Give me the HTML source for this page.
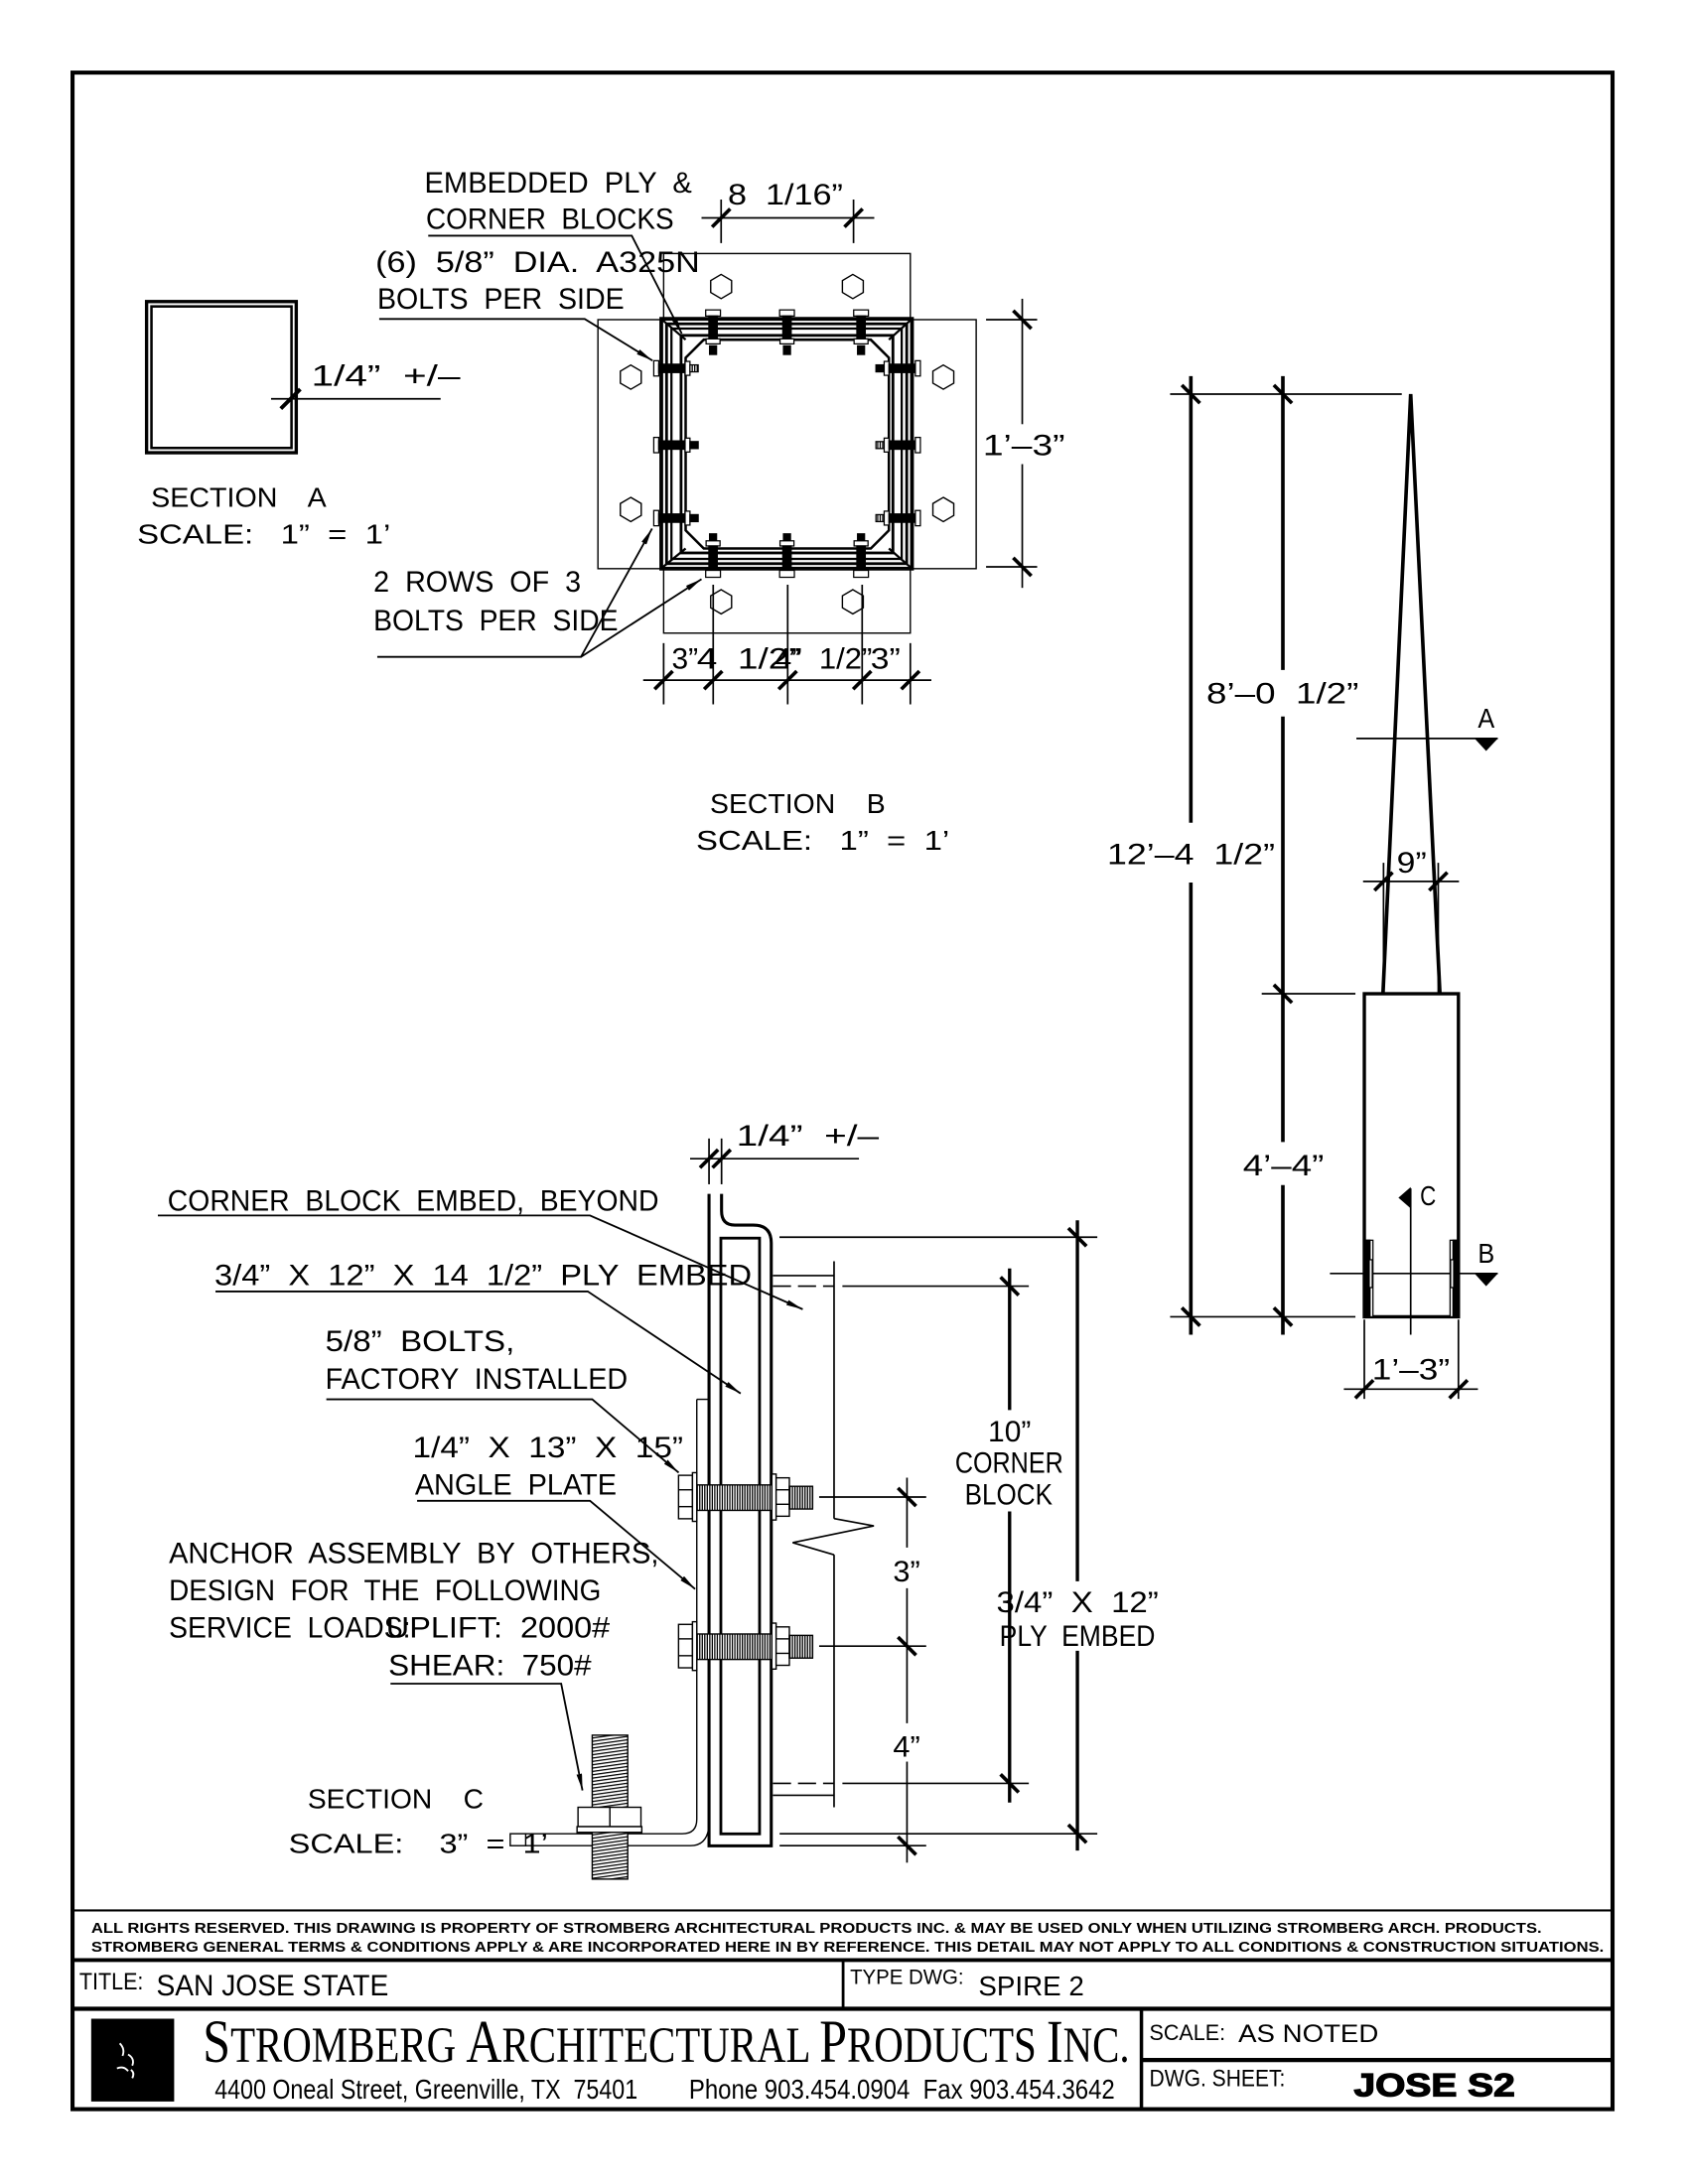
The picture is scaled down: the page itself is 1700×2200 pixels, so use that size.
<!DOCTYPE html>
<html><head><meta charset="utf-8"><style>
html,body{margin:0;padding:0;background:#fff;}
svg{display:block;}
text{font-family:"Liberation Sans",Arial,sans-serif;fill:#000;white-space:pre;}
.l{font-size:21px;}
.s{font-size:20px;}
</style></head><body>
<svg width="1700" height="2200" viewBox="0 0 1212.5 1569" xmlns="http://www.w3.org/2000/svg">
<defs>
<marker id="ar" viewBox="0 0 12 4" refX="12" refY="2" markerWidth="12" markerHeight="4" markerUnits="userSpaceOnUse" orient="auto"><path d="M0,0 L12,2 L0,4 z" fill="#000"/></marker>
<pattern id="thr" width="1.8" height="4" patternUnits="userSpaceOnUse"><rect width="1.8" height="4" fill="#fff"/><rect x="0" y="0" width="0.9" height="4" fill="#000"/></pattern>
<pattern id="rod" width="30" height="2.4" patternUnits="userSpaceOnUse" patternTransform="skewY(-8)"><rect width="30" height="2.4" fill="#fff"/><rect x="0" y="0" width="30" height="0.9" fill="#000"/></pattern>
</defs>
<rect x="0" y="0" width="1212.5" height="1569" fill="#fff"/>

<!-- page border -->
<rect x="52.1" y="52.1" width="1106.2" height="1463.2" fill="none" stroke="#000" stroke-width="2.9"/>

<!-- ===== TITLE BLOCK ===== -->
<g stroke="#000">
<line x1="52" y1="1372.5" x2="1158" y2="1372.5" stroke-width="1.5"/>
<line x1="52" y1="1408.2" x2="1158" y2="1408.2" stroke-width="2.8"/>
<line x1="605.6" y1="1408" x2="605.6" y2="1443" stroke-width="2"/>
<line x1="52" y1="1443.2" x2="1158" y2="1443.2" stroke-width="3"/>
<line x1="819.9" y1="1443" x2="819.9" y2="1515" stroke-width="2.5"/>
<line x1="820" y1="1480" x2="1158" y2="1480" stroke-width="3"/>
</g>
<text x="65.5" y="1388.5" font-size="10.5" font-weight="bold" textLength="1041.9" lengthAdjust="spacingAndGlyphs">ALL RIGHTS RESERVED. THIS DRAWING IS PROPERTY OF STROMBERG ARCHITECTURAL PRODUCTS INC. &amp; MAY BE USED ONLY WHEN UTILIZING STROMBERG ARCH. PRODUCTS.</text>
<text x="65.5" y="1402.2" font-size="10.5" font-weight="bold" textLength="1086.6" lengthAdjust="spacingAndGlyphs">STROMBERG GENERAL TERMS &amp; CONDITIONS APPLY &amp; ARE INCORPORATED HERE IN BY REFERENCE. THIS DETAIL MAY NOT APPLY TO ALL CONDITIONS &amp; CONSTRUCTION SITUATIONS.</text>
<text x="57" y="1429.4" font-size="17" textLength="46" lengthAdjust="spacingAndGlyphs">TITLE:</text>
<text x="112.3" y="1433.7" font-size="21" textLength="166.8" lengthAdjust="spacingAndGlyphs">SAN JOSE STATE</text>
<text x="610.6" y="1425.4" font-size="15" textLength="81.6" lengthAdjust="spacingAndGlyphs">TYPE DWG:</text>
<text x="702.8" y="1433.7" font-size="20" textLength="75.9" lengthAdjust="spacingAndGlyphs">SPIRE 2</text>
<!-- logo -->
<rect x="65.5" y="1450.3" width="59.6" height="59.5" fill="#000"/>
<g stroke="#fff" fill="none" stroke-width="1.3">
<path d="M86,1468 q4,4 2,9"/>
<path d="M92,1476 q5,3 3,8"/>
<path d="M84,1486 q5,-2 8,2"/>
<path d="M94,1487 q3,2 1,6"/>
</g>
<text x="145.7" y="1481.2" font-size="36" textLength="665.7" lengthAdjust="spacingAndGlyphs" style="font-family:'Liberation Serif',serif"><tspan font-size="44">S</tspan>TROMBERG <tspan font-size="44">A</tspan>RCHITECTURAL <tspan font-size="44">P</tspan>RODUCTS <tspan font-size="44">I</tspan>NC.</text>
<text x="154.2" y="1507.6" font-size="20" textLength="303.8" lengthAdjust="spacingAndGlyphs">4400 Oneal Street, Greenville, TX  75401</text>
<text x="494.9" y="1507.6" font-size="20" textLength="305.9" lengthAdjust="spacingAndGlyphs">Phone 903.454.0904  Fax 903.454.3642</text>
<text x="825.6" y="1465.7" font-size="16" textLength="54.6" lengthAdjust="spacingAndGlyphs">SCALE:</text>
<text x="889.5" y="1467" font-size="18" textLength="100.7" lengthAdjust="spacingAndGlyphs">AS NOTED</text>
<text x="825.6" y="1498.7" font-size="17" textLength="97.6" lengthAdjust="spacingAndGlyphs">DWG. SHEET:</text>
<text x="972.5" y="1505.9" font-size="23" font-weight="bold" stroke="#000" stroke-width="0.9" textLength="115.7" lengthAdjust="spacingAndGlyphs">JOSE S2</text>

<!-- ===== SECTION A ===== -->
<g stroke="#000" fill="none">
<rect x="105.3" y="216.6" width="107.5" height="108.6" stroke-width="2.4"/>
<rect x="108.8" y="220.1" width="100.6" height="101.7" stroke-width="1.8"/>
<line x1="194.7" y1="286.5" x2="316.5" y2="286.5" stroke-width="1.2"/>
<line x1="201.7" y1="293.5" x2="215.7" y2="279.5" stroke-width="2.8"/>
</g>
<text class="l" x="223.6" y="277" textLength="107" lengthAdjust="spacingAndGlyphs">1/4”  +/–</text>
<text class="s" x="108.5" y="364.2" textLength="126" lengthAdjust="spacingAndGlyphs">SECTION    A</text>
<text class="s" x="98.5" y="390.6" textLength="182" lengthAdjust="spacingAndGlyphs">SCALE:   1”  =  1’</text>

<!-- ===== SECTION B ===== -->
<g stroke="#000" fill="none" stroke-width="1">
<rect x="476.7" y="182.1" width="177.2" height="47.5"/>
<rect x="476.7" y="408.5" width="177.2" height="46.3"/>
<rect x="429.5" y="229.6" width="45.5" height="178.9"/>
<rect x="655.1" y="229.6" width="46.1" height="178.9"/>
</g>
<g stroke="#000" fill="none">
<rect x="475" y="229" width="180.1" height="179.5" stroke-width="2.7"/>
<rect x="478.8" y="232.6" width="172.5" height="172.3" stroke-width="2"/>
<rect x="482.3" y="236" width="165.4" height="165.5" stroke-width="1.6"/>
<rect x="489.2" y="240.9" width="152.2" height="156.3" stroke-width="2"/>
<polygon points="505.5,244 625.5,244 638.5,257 638.5,381 625.5,394 505.5,394 492.5,381 492.5,257" stroke-width="1.8"/>
<line x1="476" y1="230" x2="492.5" y2="244" stroke-width="1.6"/>
<line x1="654" y1="230" x2="638.5" y2="244" stroke-width="1.6"/>
<line x1="476" y1="407.5" x2="492.5" y2="394" stroke-width="1.6"/>
<line x1="654" y1="407.5" x2="638.5" y2="394" stroke-width="1.6"/>
</g>
<!-- hex holes -->
<g stroke="#000" fill="none" stroke-width="1">
<polygon points="518,197.1 525.5,201.5 525.5,210.1 518,214.5 510.5,210.1 510.5,201.5"/>
<polygon points="612.6,197.1 620.1,201.5 620.1,210.1 612.6,214.5 605.1,210.1 605.1,201.5"/>
<polygon points="518,423.6 525.5,428 525.5,436.6 518,441 510.5,436.6 510.5,428"/>
<polygon points="612.6,423.6 620.1,428 620.1,436.6 612.6,441 605.1,436.6 605.1,428"/>
<polygon points="453.1,262.2 460.6,266.6 460.6,275.2 453.1,279.6 445.6,275.2 445.6,266.6"/>
<polygon points="453.1,357.3 460.6,361.7 460.6,370.3 453.1,374.7 445.6,370.3 445.6,361.7"/>
<polygon points="677.6,262.2 685.1,266.6 685.1,275.2 677.6,279.6 670.1,275.2 670.1,266.6"/>
<polygon points="677.6,357.3 685.1,361.7 685.1,370.3 677.6,374.7 670.1,370.3 670.1,361.7"/>
</g>
<!-- bolts top row -->
<g stroke="#000" stroke-width="0.9">
<rect x="506.9" y="222.6" width="10.6" height="4.4" fill="#fff"/><rect x="509.2" y="227" width="6" height="16.4" fill="#000"/><rect x="507.2" y="243.4" width="10" height="3.6" fill="#fff"/><rect x="509.7" y="248.4" width="5" height="6.2" fill="#000"/>
<rect x="560" y="222.6" width="10.6" height="4.4" fill="#fff"/><rect x="562.3" y="227" width="6" height="16.4" fill="#000"/><rect x="560.3" y="243.4" width="10" height="3.6" fill="#fff"/><rect x="562.8" y="248.4" width="5" height="6.2" fill="#000"/>
<rect x="613.2" y="222.6" width="10.6" height="4.4" fill="#fff"/><rect x="615.5" y="227" width="6" height="16.4" fill="#000"/><rect x="613.5" y="243.4" width="10" height="3.6" fill="#fff"/><rect x="616" y="248.4" width="5" height="6.2" fill="#000"/>
<!-- bottom row -->
<rect x="509.7" y="383.5" width="5" height="5" fill="#000"/><rect x="507.2" y="388.5" width="10" height="3.7" fill="#fff"/><rect x="509.2" y="392.2" width="6" height="17.5" fill="#000"/><rect x="506.9" y="409.7" width="10.6" height="5" fill="#fff"/>
<rect x="562.8" y="383.5" width="5" height="5" fill="#000"/><rect x="560.3" y="388.5" width="10" height="3.7" fill="#fff"/><rect x="562.3" y="392.2" width="6" height="17.5" fill="#000"/><rect x="560" y="409.7" width="10.6" height="5" fill="#fff"/>
<rect x="616" y="383.5" width="5" height="5" fill="#000"/><rect x="613.5" y="388.5" width="10" height="3.7" fill="#fff"/><rect x="615.5" y="392.2" width="6" height="17.5" fill="#000"/><rect x="613.2" y="409.7" width="10.6" height="5" fill="#fff"/>
<!-- left column -->
<rect x="469.6" y="259.1" width="3.6" height="11" fill="#fff"/><rect x="473.2" y="261.6" width="18.9" height="6" fill="#000"/><rect x="492.1" y="259.6" width="3.5" height="10" fill="#fff"/><rect x="495.6" y="262.1" width="5.9" height="5" fill="url(#thr)"/>
<rect x="469.6" y="314.2" width="3.6" height="11" fill="#fff"/><rect x="473.2" y="316.7" width="18.9" height="6" fill="#000"/><rect x="492.1" y="314.7" width="3.5" height="10" fill="#fff"/><rect x="495.6" y="317.2" width="5.9" height="5" fill="#000"/>
<rect x="469.6" y="366.7" width="3.6" height="11" fill="#fff"/><rect x="473.2" y="369.2" width="18.9" height="6" fill="#000"/><rect x="492.1" y="367.2" width="3.5" height="10" fill="#fff"/><rect x="495.6" y="369.7" width="5.9" height="5" fill="#000"/>
<!-- right column -->
<rect x="629.2" y="262.1" width="5.9" height="5" fill="#000"/><rect x="635.1" y="259.6" width="3.5" height="10" fill="#fff"/><rect x="638.6" y="261.6" width="18.9" height="6" fill="#000"/><rect x="657.5" y="259.1" width="3.6" height="11" fill="#fff"/>
<rect x="629.2" y="317.2" width="5.9" height="5" fill="url(#thr)"/><rect x="635.1" y="314.7" width="3.5" height="10" fill="#fff"/><rect x="638.6" y="316.7" width="18.9" height="6" fill="#000"/><rect x="657.5" y="314.2" width="3.6" height="11" fill="#fff"/>
<rect x="629.2" y="369.7" width="5.9" height="5" fill="url(#thr)"/><rect x="635.1" y="367.2" width="3.5" height="10" fill="#fff"/><rect x="638.6" y="369.2" width="18.9" height="6" fill="#000"/><rect x="657.5" y="366.7" width="3.6" height="11" fill="#fff"/>
</g>
<!-- Section B dims -->
<g stroke="#000" fill="none" stroke-width="1.2">
<line x1="503.9" y1="156.5" x2="628" y2="156.5"/>
<line x1="518" y1="143.3" x2="518" y2="174.6"/>
<line x1="613.1" y1="143.3" x2="613.1" y2="174.6"/>
<line x1="734.3" y1="214.6" x2="734.3" y2="304.7"/>
<line x1="734.3" y1="333.4" x2="734.3" y2="422.3"/>
<line x1="708.3" y1="229.6" x2="745" y2="229.6"/>
<line x1="708.3" y1="407.2" x2="745" y2="407.2"/>
<line x1="462" y1="488.6" x2="669" y2="488.6"/>
<line x1="476.7" y1="462" x2="476.7" y2="506"/>
<line x1="653.9" y1="462" x2="653.9" y2="506"/>
<line x1="512.3" y1="420" x2="512.3" y2="506"/>
<line x1="565.8" y1="420" x2="565.8" y2="506"/>
<line x1="619.3" y1="420" x2="619.3" y2="506"/>
</g>
<g stroke="#000" stroke-width="2.6">
<line x1="511.5" y1="163" x2="524.5" y2="150"/>
<line x1="606.6" y1="163" x2="619.6" y2="150"/>
<line x1="727.8" y1="223.1" x2="740.8" y2="236.1"/>
<line x1="727.8" y1="400.7" x2="740.8" y2="413.7"/>
<line x1="470.2" y1="495.1" x2="483.2" y2="482.1"/>
<line x1="505.8" y1="495.1" x2="518.8" y2="482.1"/>
<line x1="559.3" y1="495.1" x2="572.3" y2="482.1"/>
<line x1="612.8" y1="495.1" x2="625.8" y2="482.1"/>
<line x1="647.4" y1="495.1" x2="660.4" y2="482.1"/>
</g>
<text class="l" x="522.8" y="147" textLength="82.7" lengthAdjust="spacingAndGlyphs">8  1/16”</text>
<text class="l" x="706" y="327" textLength="59" lengthAdjust="spacingAndGlyphs">1’–3”</text>
<text class="l" x="482.5" y="480.2" textLength="19" lengthAdjust="spacingAndGlyphs">3”</text>
<text class="l" x="500.5" y="480.2" textLength="74.9" lengthAdjust="spacingAndGlyphs">4  1/2”</text>
<text class="l" x="556.3" y="480.2" textLength="70.2" lengthAdjust="spacingAndGlyphs">4”  1/2”</text>
<text class="l" x="625.3" y="480.2" textLength="21.4" lengthAdjust="spacingAndGlyphs">3”</text>
<!-- Section B labels -->
<text class="l" x="304.9" y="138.2" textLength="192.1" lengthAdjust="spacingAndGlyphs">EMBEDDED  PLY  &amp;</text>
<text class="l" x="306" y="164.5" textLength="178" lengthAdjust="spacingAndGlyphs">CORNER  BLOCKS</text>
<text class="l" x="269.7" y="195.3" textLength="233" lengthAdjust="spacingAndGlyphs">(6)  5/8”  DIA.  A325N</text>
<text class="l" x="271" y="221.9" textLength="177.4" lengthAdjust="spacingAndGlyphs">BOLTS  PER  SIDE</text>
<text class="l" x="268.3" y="425.2" textLength="149" lengthAdjust="spacingAndGlyphs">2  ROWS  OF  3</text>
<text class="l" x="268.3" y="452.7" textLength="175.7" lengthAdjust="spacingAndGlyphs">BOLTS  PER  SIDE</text>
<g stroke="#000" fill="none" stroke-width="1.3">
<polyline points="307.6,169.3 453.8,169.3 489.7,239.6" marker-end="url(#ar)"/>
<polyline points="272.4,229.1 420,229.1 468.7,259" marker-end="url(#ar)"/>
<polyline points="271,471.9 417.3,471.9 468.4,379.7" marker-end="url(#ar)"/>
<line x1="417.3" y1="471.9" x2="503.9" y2="416" marker-end="url(#ar)"/>
</g>
<text class="s" x="510" y="584" textLength="126" lengthAdjust="spacingAndGlyphs">SECTION    B</text>
<text class="s" x="500" y="610.6" textLength="182" lengthAdjust="spacingAndGlyphs">SCALE:   1”  =  1’</text>

<!-- ===== SPIRE ELEVATION ===== -->
<g stroke="#000" fill="none" stroke-width="2.6">
<line x1="855.4" y1="270.2" x2="855.4" y2="591"/>
<line x1="855.4" y1="634" x2="855.4" y2="958.9"/>
<line x1="921.5" y1="270.2" x2="921.5" y2="481.3"/>
<line x1="921.5" y1="514.7" x2="921.5" y2="820.4"/>
<line x1="921.5" y1="851.4" x2="921.5" y2="958.9"/>
<polyline points="993.4,713.9 1013.3,283.1 1034.3,713.9"/>
<rect x="980" y="713.9" width="67.6" height="232.1" stroke-width="2.4"/>
</g>
<g stroke="#000" stroke-width="2.6">
<line x1="848.9" y1="276.6" x2="861.9" y2="289.6"/>
<line x1="848.9" y1="939.5" x2="861.9" y2="952.5"/>
<line x1="915" y1="276.6" x2="928" y2="289.6"/>
<line x1="915" y1="707.4" x2="928" y2="720.4"/>
<line x1="915" y1="939.5" x2="928" y2="952.5"/>
<line x1="987.3" y1="639.7" x2="1000.3" y2="626.7"/>
<line x1="1026.6" y1="639.7" x2="1039.6" y2="626.7"/>
<line x1="973.5" y1="1004.5" x2="986.5" y2="991.5"/>
<line x1="1041.1" y1="1004.5" x2="1054.1" y2="991.5"/>
</g>
<g stroke="#000" fill="none" stroke-width="1.2">
<line x1="840.5" y1="283.1" x2="1006.9" y2="283.1"/>
<line x1="906.3" y1="713.9" x2="973.6" y2="713.9"/>
<line x1="840.5" y1="946" x2="973.6" y2="946"/>
<line x1="979.1" y1="633.2" x2="1048" y2="633.2"/>
<line x1="993.8" y1="619.8" x2="993.8" y2="713"/>
<line x1="1033.1" y1="619.8" x2="1033.1" y2="713"/>
<line x1="974.3" y1="530.5" x2="1075.9" y2="530.5"/>
<line x1="955.3" y1="914.9" x2="1075.9" y2="914.9"/>
<line x1="1013.3" y1="853.8" x2="1013.3" y2="958.9"/>
<line x1="965.3" y1="998" x2="1061.6" y2="998"/>
<line x1="980" y1="948" x2="980" y2="1005"/>
<line x1="1047.6" y1="948" x2="1047.6" y2="1005"/>
</g>
<polygon points="1059.2,530.5 1075.9,530.5 1067.5,539.5" fill="#000"/>
<polygon points="1059.2,914.9 1075.9,914.9 1067.5,924" fill="#000"/>
<polygon points="1013.3,852.8 1013.3,868.1 1004.5,860.5" fill="#000"/>
<!-- bolt marks inside box -->
<g stroke="#000" stroke-width="0.9">
<rect x="981.5" y="891" width="4.7" height="55" fill="#fff"/>
<rect x="981.5" y="891" width="2.6" height="55" fill="#000"/>
<rect x="983.5" y="905" width="2.2" height="20" fill="#fff"/>
<rect x="1041.6" y="891" width="4.7" height="55" fill="#fff"/>
<rect x="1043.7" y="891" width="2.6" height="55" fill="#000"/>
<rect x="1042" y="905" width="2.2" height="20" fill="#fff"/>
</g>
<text class="l" x="795.3" y="620.7" textLength="120.5" lengthAdjust="spacingAndGlyphs">12’–4  1/2”</text>
<text class="l" x="866.6" y="505.2" textLength="109.4" lengthAdjust="spacingAndGlyphs">8’–0  1/2”</text>
<text class="l" x="892.8" y="844.3" textLength="58.2" lengthAdjust="spacingAndGlyphs">4’–4”</text>
<text class="l" x="1003.3" y="627" textLength="21.4" lengthAdjust="spacingAndGlyphs">9”</text>
<text class="s" x="1061.6" y="522.8" textLength="12" lengthAdjust="spacingAndGlyphs">A</text>
<text class="s" x="1061.6" y="907.3" textLength="12" lengthAdjust="spacingAndGlyphs">B</text>
<text class="s" x="1020" y="865.7" textLength="11.5" lengthAdjust="spacingAndGlyphs">C</text>
<text class="l" x="985.5" y="991" textLength="55.9" lengthAdjust="spacingAndGlyphs">1’–3”</text>

<!-- ===== SECTION C ===== -->
<g stroke="#000" fill="none" stroke-width="1.2">
<line x1="495.7" y1="832.4" x2="617" y2="832.4"/>
<line x1="509.3" y1="817.9" x2="509.3" y2="850.8"/>
<line x1="518.3" y1="817.9" x2="518.3" y2="850.8"/>
<line x1="559.9" y1="888.8" x2="788.2" y2="888.8"/>
<line x1="555.2" y1="916.4" x2="599.1" y2="916.4"/>
<line x1="555.2" y1="924" x2="599.1" y2="924" stroke-dasharray="13,5"/>
<line x1="605.1" y1="924" x2="739" y2="924"/>
<line x1="599.1" y1="906.1" x2="599.1" y2="1091"/>
<polyline points="599.1,1091 627.7,1096.2 569.4,1108.3 599.1,1117"/>
<line x1="599.1" y1="1117" x2="599.1" y2="1298.4"/>
<line x1="555.2" y1="1281.2" x2="599.1" y2="1281.2" stroke-dasharray="13,5"/>
<line x1="605.1" y1="1281.2" x2="739" y2="1281.2"/>
<line x1="555.2" y1="1289.8" x2="599.1" y2="1289.8"/>
<line x1="560" y1="1317.4" x2="788.2" y2="1317.4"/>
<line x1="560" y1="1326" x2="665.3" y2="1326"/>
<line x1="588.4" y1="1075.5" x2="665.3" y2="1075.5"/>
<line x1="588.4" y1="1182.6" x2="665.3" y2="1182.6"/>
<line x1="651.5" y1="1061.6" x2="651.5" y2="1111.8"/>
<line x1="651.5" y1="1141" x2="651.5" y2="1238"/>
<line x1="651.5" y1="1265.6" x2="651.5" y2="1338.2"/>
</g>
<g stroke="#000" fill="none" stroke-width="2.4">
<line x1="725.2" y1="911.3" x2="725.2" y2="1013"/>
<line x1="725.2" y1="1085.8" x2="725.2" y2="1295"/>
<line x1="773.9" y1="876.7" x2="773.9" y2="1136"/>
<line x1="773.9" y1="1186" x2="773.9" y2="1329.5"/>
</g>
<g stroke="#000" stroke-width="2.6">
<line x1="502.8" y1="838.9" x2="515.8" y2="825.9"/>
<line x1="511.8" y1="838.9" x2="524.8" y2="825.9"/>
<line x1="767.4" y1="882.3" x2="780.4" y2="895.3"/>
<line x1="767.4" y1="1310.9" x2="780.4" y2="1323.9"/>
<line x1="718.7" y1="917.5" x2="731.7" y2="930.5"/>
<line x1="718.7" y1="1274.7" x2="731.7" y2="1287.7"/>
<line x1="645" y1="1069" x2="658" y2="1082"/>
<line x1="645" y1="1176.1" x2="658" y2="1189.1"/>
<line x1="645" y1="1319.5" x2="658" y2="1332.5"/>
</g>
<!-- angle plate -->
<g stroke="#000" fill="none" stroke-width="1">
<line x1="500.5" y1="1005.3" x2="509" y2="1005.3"/>
<path d="M500.5,1005.3 V1307 Q500.5,1317.4 490,1317.4 H377.6"/>
<path d="M509,1314 Q507,1326 496,1326 H377.6"/>
<rect x="366.5" y="1317.4" width="11.1" height="8.6"/>
</g>
<!-- member -->
<g stroke="#000" fill="none">
<path d="M509.3,857.7 V1326.1 H554 V893 Q554,880.1 541,880.1 H527.8 Q518.3,880.1 518.3,870 V857.7" stroke-width="2.2"/>
<rect x="517.8" y="889.5" width="27.8" height="428" stroke-width="2"/>
</g>
<!-- bolts -->
<g stroke="#000" stroke-width="1">
<rect x="498" y="1066.8" width="58.3" height="18.3" fill="url(#thr)"/>
<rect x="487.4" y="1059.9" width="10" height="31.2" fill="#fff"/>
<line x1="487.4" y1="1070.3" x2="497.4" y2="1070.3"/><line x1="487.4" y1="1082.4" x2="497.4" y2="1082.4"/>
<rect x="497.4" y="1058" width="3.1" height="35" fill="#fff"/>
<rect x="554.4" y="1059" width="3.1" height="33" fill="#fff"/>
<rect x="557.5" y="1061.7" width="9.5" height="27.6" fill="#fff"/>
<line x1="557.5" y1="1070.3" x2="567" y2="1070.3"/><line x1="557.5" y1="1080.7" x2="567" y2="1080.7"/>
<rect x="567" y="1067.8" width="16.7" height="16.3" fill="url(#thr)"/>

<rect x="498" y="1173.9" width="58.3" height="18.3" fill="url(#thr)"/>
<rect x="487.4" y="1167" width="10" height="31.2" fill="#fff"/>
<line x1="487.4" y1="1177.4" x2="497.4" y2="1177.4"/><line x1="487.4" y1="1189.5" x2="497.4" y2="1189.5"/>
<rect x="497.4" y="1165.1" width="3.1" height="35" fill="#fff"/>
<rect x="554.4" y="1166.1" width="3.1" height="33" fill="#fff"/>
<rect x="557.5" y="1168.8" width="9.5" height="27.6" fill="#fff"/>
<line x1="557.5" y1="1177.4" x2="567" y2="1177.4"/><line x1="557.5" y1="1187.8" x2="567" y2="1187.8"/>
<rect x="567" y="1174.9" width="16.7" height="16.3" fill="url(#thr)"/>
</g>
<!-- anchor rod -->
<g stroke="#000" stroke-width="1">
<rect x="425.4" y="1246.6" width="25.5" height="103.4" fill="url(#rod)"/>
<rect x="415.2" y="1298.4" width="22.9" height="13.9" fill="#fff"/>
<rect x="438.1" y="1298.4" width="22.3" height="13.9" fill="#fff"/>
<rect x="414.5" y="1312.3" width="46.5" height="4.1" fill="#fff"/>
</g>
<!-- leaders -->
<g stroke="#000" fill="none" stroke-width="1.3">
<polyline points="113.4,873.2 423.8,873.2 576.6,940.6" marker-end="url(#ar)"/>
<polyline points="154.8,927.8 422.2,927.8 532,1001.1" marker-end="url(#ar)"/>
<polyline points="234.4,1005.3 425.4,1005.3 487.5,1058" marker-end="url(#ar)"/>
<polyline points="299.6,1078.2 423.8,1078.2 499.3,1141.6" marker-end="url(#ar)"/>
<polyline points="280.5,1209.6 403.1,1209.6 418.4,1286.3" marker-end="url(#ar)"/>
</g>
<text class="l" x="529" y="823" textLength="102.3" lengthAdjust="spacingAndGlyphs">1/4”  +/–</text>
<text class="l" x="120.4" y="869.8" textLength="352.8" lengthAdjust="spacingAndGlyphs">CORNER  BLOCK  EMBED,  BEYOND</text>
<text class="l" x="154.1" y="923.4" textLength="385.9" lengthAdjust="spacingAndGlyphs">3/4”  X  12”  X  14  1/2”  PLY  EMBED</text>
<text class="l" x="233.7" y="970.7" textLength="136" lengthAdjust="spacingAndGlyphs">5/8”  BOLTS,</text>
<text class="l" x="233.7" y="997.7" textLength="217.2" lengthAdjust="spacingAndGlyphs">FACTORY  INSTALLED</text>
<text class="l" x="296.4" y="1047.1" textLength="194.3" lengthAdjust="spacingAndGlyphs">1/4”  X  13”  X  15”</text>
<text class="l" x="298" y="1073.7" textLength="144.9" lengthAdjust="spacingAndGlyphs">ANGLE  PLATE</text>
<text class="l" x="121.3" y="1122.8" textLength="351.9" lengthAdjust="spacingAndGlyphs">ANCHOR  ASSEMBLY  BY  OTHERS,</text>
<text class="l" x="121.3" y="1149.8" textLength="310.5" lengthAdjust="spacingAndGlyphs">DESIGN  FOR  THE  FOLLOWING</text>
<text class="l" x="121.3" y="1176.4" textLength="173.6" lengthAdjust="spacingAndGlyphs">SERVICE  LOADS:</text>
<text class="l" x="277.3" y="1176.4" textLength="160.8" lengthAdjust="spacingAndGlyphs">UPLIFT:  2000#</text>
<text class="l" x="279" y="1203.4" textLength="145.8" lengthAdjust="spacingAndGlyphs">SHEAR:  750#</text>
<text class="s" x="221" y="1299.1" textLength="126.4" lengthAdjust="spacingAndGlyphs">SECTION    C</text>
<text class="s" x="207.3" y="1331.3" textLength="186.3" lengthAdjust="spacingAndGlyphs">SCALE:    3”  =  1’</text>
<text class="l" x="641.5" y="1136" textLength="19.5" lengthAdjust="spacingAndGlyphs">3”</text>
<text class="l" x="641.5" y="1262" textLength="19.5" lengthAdjust="spacingAndGlyphs">4”</text>
<text class="l" x="709.7" y="1035.7" textLength="30.9" lengthAdjust="spacingAndGlyphs">10”</text>
<text class="l" x="686" y="1058.2" textLength="77.7" lengthAdjust="spacingAndGlyphs">CORNER</text>
<text class="l" x="693" y="1080.7" textLength="63" lengthAdjust="spacingAndGlyphs">BLOCK</text>
<text class="l" x="715.7" y="1158.4" textLength="116.5" lengthAdjust="spacingAndGlyphs">3/4”  X  12”</text>
<text class="l" x="718" y="1182.6" textLength="111.8" lengthAdjust="spacingAndGlyphs">PLY  EMBED</text>
</svg>
</body></html>
